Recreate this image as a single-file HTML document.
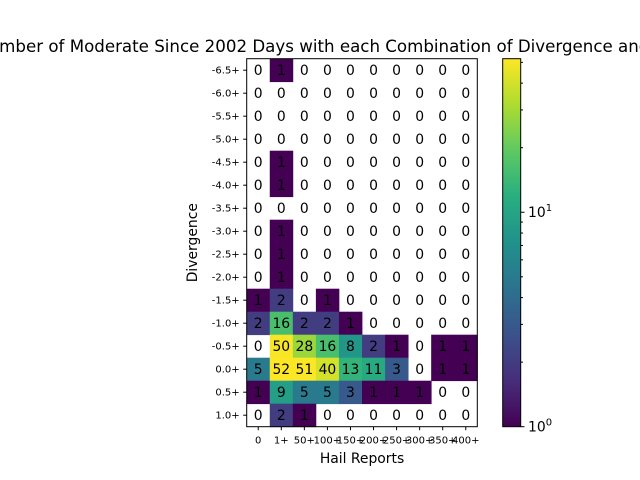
<!DOCTYPE html>
<html><head><meta charset="utf-8"><style>body{margin:0;background:#fff}svg{display:block;font-family:"DejaVu Sans","Liberation Sans",sans-serif}</style></head>
<body>
<svg id="chart" width="640" height="480" viewBox="0 0 640 480" xmlns="http://www.w3.org/2000/svg">
<defs><linearGradient id="vir" x1="0" y1="1" x2="0" y2="0">
<stop offset="0" stop-color="#440154"/><stop offset="0.125" stop-color="#472d7b"/><stop offset="0.25" stop-color="#3b528b"/><stop offset="0.375" stop-color="#2c728e"/><stop offset="0.5" stop-color="#21918c"/><stop offset="0.625" stop-color="#28ae80"/><stop offset="0.75" stop-color="#5ec962"/><stop offset="0.875" stop-color="#addc30"/><stop offset="1" stop-color="#fde725"/></linearGradient></defs>
<text x="366" y="52" font-size="16.67" text-anchor="middle">Number of Moderate Since 2002 Days with each Combination of Divergence and Hail Reports</text>
<g id="cells"></g>
<rect x="246.7" y="58.7" width="230.6" height="368" fill="none" stroke="#000" stroke-width="1"/>
<g id="axes"></g>
<text x="362" y="463" font-size="13.9" text-anchor="middle">Hail Reports</text>
<text transform="translate(197,242.7) rotate(-90)" font-size="13.9" text-anchor="middle">Divergence</text>
<rect x="502.7" y="58.7" width="18" height="368" fill="url(#vir)" stroke="#000" stroke-width="1"/>
<g id="cbar"></g>
</svg>
<script>
const xLabels=["0","1+","50+","100+","150+","200+","250+","300+","350+","400+"];
const yLabels=["-6.5+","-6.0+","-5.5+","-5.0+","-4.5+","-4.0+","-3.5+","-3.0+","-2.5+","-2.0+","-1.5+","-1.0+","-0.5+","0.0+","0.5+","1.0+"];
const row0=[0,1,0,0,0,0,0,0,0,0];
const row1=[0,0,0,0,0,0,0,0,0,0];
const row2=[0,0,0,0,0,0,0,0,0,0];
const row3=[0,0,0,0,0,0,0,0,0,0];
const row4=[0,1,0,0,0,0,0,0,0,0];
const row5=[0,1,0,0,0,0,0,0,0,0];
const row6=[0,0,0,0,0,0,0,0,0,0];
const row7=[0,1,0,0,0,0,0,0,0,0];
const row8=[0,1,0,0,0,0,0,0,0,0];
const row9=[0,1,0,0,0,0,0,0,0,0];
const row10=[1,2,0,1,0,0,0,0,0,0];
const row11=[2,16,2,2,1,0,0,0,0,0];
const row12=[0,50,28,16,8,2,1,0,1,1];
const row13=[5,52,51,40,13,11,3,0,1,1];
const row14=[1,9,5,5,3,1,1,1,0,0];
const row15=[0,2,1,0,0,0,0,0,0,0];
const values=[row0,row1,row2,row3,row4,row5,row6,row7,row8,row9,row10,row11,row12,row13,row14,row15];
const cbMin=1, cbMax=52;
const X0=246.7,X1=477.3,Y0=58.7,Y1=426.7;
const NS="http://www.w3.org/2000/svg";
const stops=[[68,1,84],[71,45,123],[59,82,139],[44,114,142],[33,145,140],[40,174,128],[94,201,98],[173,220,48],[253,231,37]];
function vir(t){t=Math.max(0,Math.min(1,t));const f=t*8,i=Math.min(7,Math.floor(f)),r=f-i;const a=stops[i],b=stops[i+1];return `rgb(${a.map((v,k)=>Math.round(v+(b[k]-v)*r)).join(',')})`;}
const nR=yLabels.length, nC=xLabels.length;
const cw=(X1-X0)/nC, ch=(Y1-Y0)/nR;
function xs(i){return X0+i*cw;} function ys(j){return Y0+j*ch;}
function cb(v){return Y1-(Math.log(v)-Math.log(cbMin))/(Math.log(cbMax)-Math.log(cbMin))*(Y1-Y0);}
const cells=document.getElementById('cells');
function mk(tag,attrs,parent){const e=document.createElementNS(NS,tag);for(const k in attrs)e.setAttribute(k,attrs[k]);parent.appendChild(e);return e;}
values.forEach((row,j)=>row.forEach((v,i)=>{
 if(v>0){const r=mk('rect',{x:xs(i),y:ys(j),width:cw+0.4,height:ch+0.4,fill:vir(Math.log(v)/Math.log(cbMax))},cells);
 
 }
 const t=mk('text',{x:xs(i)+cw/2,y:ys(j)+ch/2+5,'font-size':'13.9','text-anchor':'middle',fill:'#000'},cells);
 
 
 t.textContent=v;
}));
const ax=document.getElementById('axes');
xLabels.forEach((l,i)=>{const x=xs(i)+cw/2;
 const tk=mk('line',{x1:x,x2:x,y1:Y1,y2:Y1+3.5,stroke:'#000'},ax);
 
 
 const t=mk('text',{x:x,y:Y1+17,'font-size':'10','text-anchor':'middle'},ax);
 
 
 t.textContent=l;});
yLabels.forEach((l,j)=>{const y=ys(j)+ch/2;
 const tk=mk('line',{x1:X0-3.5,x2:X0,y1:y,y2:y,stroke:'#000'},ax);
 
 
 const t=mk('text',{x:X0-7,y:y+3.5,'font-size':'10','text-anchor':'end'},ax);
 
 
 t.textContent=l;});
const cg=document.getElementById('cbar');
const minor=[2,3,4,5,6,7,8,9,20,30,40,50];
minor.forEach(v=>{const y=cb(v);const l=mk('line',{x1:520.7,x2:523,y1:y,y2:y,stroke:'#000'},cg);
 
 });
[[1,'0'],[10,'1']].forEach(([v,e])=>{const y=cb(v);const l=mk('line',{x1:520.7,x2:524.5,y1:y,y2:y,stroke:'#000'},cg);
 
 
 const t=mk('text',{x:528,y:y+5,'font-size':'13.9'},cg);
 
 
 t.textContent='10';
 const s=mk('tspan',{dy:'-6','font-size':'10'},t);s.textContent=e;});
</script>
</body></html>
